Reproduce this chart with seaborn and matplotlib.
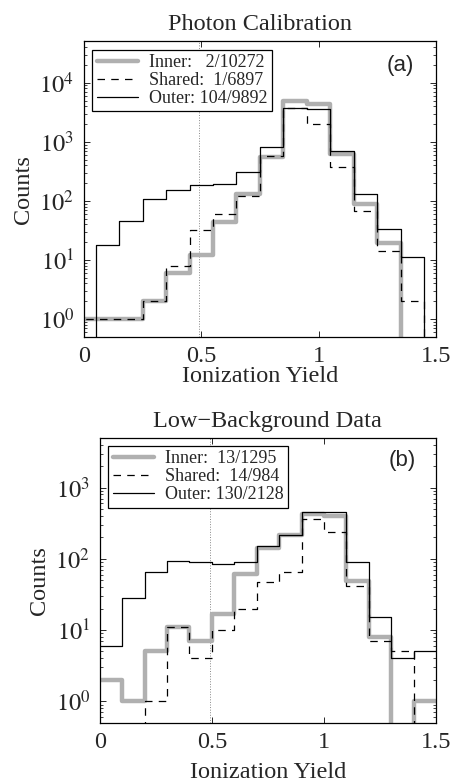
import math
import matplotlib
matplotlib.use("Agg")
import matplotlib.pyplot as plt
import seaborn as sns
import pandas as pd

# Photon calibration histogram (bins centred on 0, 0.1, ..., 1.5)
photon_centers = [0.0, 0.1, 0.2, 0.3, 0.4, 0.5, 0.6, 0.7, 0.8, 0.9, 1.0, 1.1, 1.2, 1.3, 1.4, 1.5]
photon_edges = [-0.05, 0.05, 0.15, 0.25, 0.35, 0.45, 0.55, 0.65, 0.75, 0.85, 0.95, 1.05, 1.15, 1.25, 1.35, 1.45, 1.55]
photon_inner = [1, 1, 1, 2, 6, 12, 44, 130, 550, 4900, 4300, 620, 90, 19, 0, 0]
photon_shared = [1, 1, 1, 2, 8, 32, 59, 121, 580, 3800, 2000, 370, 66, 14, 2, 0]
photon_outer = [0, 18, 45, 107, 150, 183, 195, 306, 825, 3700, 3600, 700, 133, 33, 11, 0]
photon_labels = ["Inner:   2/10272", "Shared:  1/6897", "Outer: 104/9892"]

# Low-background data histogram (bins 0-0.1, ..., 1.4-1.5)
lowbg_centers = [0.05, 0.15, 0.25, 0.35, 0.45, 0.55, 0.65, 0.75, 0.85, 0.95, 1.05, 1.15, 1.25, 1.35, 1.45]
lowbg_edges = [0.0, 0.1, 0.2, 0.3, 0.4, 0.5, 0.6, 0.7, 0.8, 0.9, 1.0, 1.1, 1.2, 1.3, 1.4, 1.5]
lowbg_inner = [2, 1, 5, 11, 7, 17, 61, 142, 214, 420, 400, 48, 8, 0, 1]
lowbg_shared = [0, 0, 1, 11, 4, 10, 20, 47, 65, 360, 240, 41, 7, 5, 0]
lowbg_outer = [6, 28, 66, 93, 89, 84, 89, 152, 218, 447, 460, 91, 15, 4, 5]
lowbg_labels = ["Inner:  13/1295", "Shared:  14/984", "Outer: 130/2128"]

yield_cut = 0.49

sns.set_style("ticks")
plt.rcParams["font.family"] = ["Liberation Serif", "DejaVu Serif"]
plt.rcParams["mathtext.fontset"] = "stix"
plt.rcParams["xtick.direction"] = "in"
plt.rcParams["ytick.direction"] = "in"
plt.rcParams["axes.edgecolor"] = "black"
plt.rcParams["axes.linewidth"] = 0.9

styles = [
    dict(color="#b0b0b0", linewidth=3.2, linestyle="-"),
    dict(color="black", linewidth=0.9, dashes=(6, 5)),
    dict(color="black", linewidth=0.9, linestyle="-"),
]

fig = plt.figure(figsize=(4.56, 7.83), dpi=100)


def panel(ax, centers, edges, series, labels, ylim, yticks, title, tag, xlabel_pad):
    handles = []
    for counts, style in zip(series, styles):
        df = pd.DataFrame({"yield": centers, "count": counts})
        sns.histplot(data=df, x="yield", weights="count", bins=edges,
                     element="step", fill=False, ax=ax, **style)
        handles.append(ax.lines[-1])
    ax.set_yscale("log")
    ax.axvline(yield_cut, color="#888888", linestyle=":", linewidth=0.7, zorder=0)
    ax.set_xlim(0, 1.5)
    ax.set_ylim(*ylim)
    ax.set_xticks([0, 0.5, 1, 1.5])
    ax.set_xticklabels(["0", "0.5", "1", "1.5"])
    ax.set_yticks(yticks)
    ax.set_yticklabels([rf"$10^{{{int(round(math.log10(t)))}}}$" for t in yticks])
    ax.tick_params(axis="both", which="both", top=True, right=True, labelsize=17.5, pad=7)
    ax.tick_params(which="major", length=4.5, width=0.7)
    ax.tick_params(which="minor", length=2.5, width=0.6)
    ax.set_xlabel("Ionization Yield", fontsize=17.5, labelpad=xlabel_pad)
    ax.set_ylabel("Counts", fontsize=17.5, labelpad=4)
    ax.set_title(title, fontsize=17.5, pad=8)
    leg = ax.legend(handles, labels, loc="upper left", fontsize=13, frameon=True,
                    fancybox=False, framealpha=1, edgecolor="black",
                    borderpad=0.25, labelspacing=0.05, handlelength=2.3,
                    handletextpad=0.6, borderaxespad=0.45)
    leg.get_frame().set_linewidth(0.9)
    ax.text(0.9, 0.92, tag, transform=ax.transAxes, ha="center", va="center",
            fontsize=16, family=["Liberation Sans", "DejaVu Sans"])


ax1 = fig.add_axes([0.184, 0.570, 0.772, 0.377])
panel(ax1, photon_centers, photon_edges, [photon_inner, photon_shared, photon_outer],
      photon_labels, (0.5, 5e4), [1, 10, 100, 1000, 10000], "Photon Calibration", "(a)", -1)

ax2 = fig.add_axes([0.219, 0.077, 0.737, 0.364])
panel(ax2, lowbg_centers, lowbg_edges, [lowbg_inner, lowbg_shared, lowbg_outer],
      lowbg_labels, (0.5, 5e3), [1, 10, 100, 1000], "Low\u2212Background Data", "(b)", 6)

fig.savefig("out.png", dpi=100)
